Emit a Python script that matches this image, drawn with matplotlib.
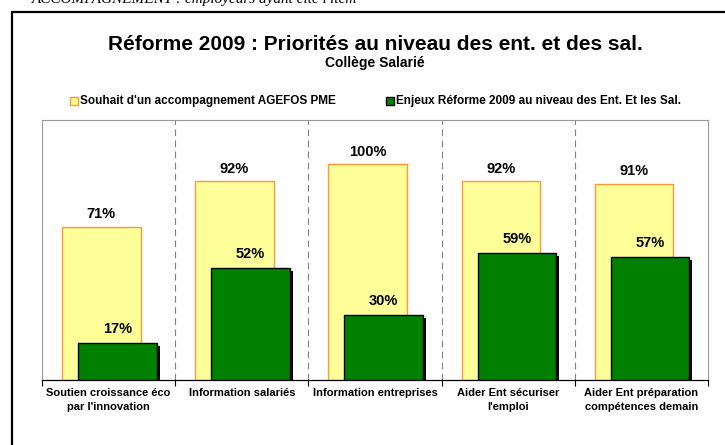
import matplotlib
matplotlib.use("Agg")
import matplotlib.pyplot as plt
from matplotlib.patches import Rectangle
import matplotlib.patheffects as pe
import numpy as np

plt.rcParams['font.family'] = ['Liberation Sans', 'DejaVu Sans']

categories = ["Soutien croissance éco\npar l'innovation", "Information salariés",
              "Information entreprises", "Aider Ent sécuriser\nl'emploi",
              "Aider Ent préparation\ncompétences demain"]
souhait = [71, 92, 100, 92, 91]
enjeux = [17, 52, 30, 59, 57]
series_names = ["Souhait d'un accompagnement AGEFOS PME",
                "Enjeux Réforme 2009 au niveau des Ent. Et les Sal."]
title = "Réforme 2009 : Priorités au niveau des ent. et des sal."
subtitle = "Collège Salarié"
top_note = "ACCOMPAGNEMENT : employeurs ayant cité l'item"

W, H = 725, 445
fig = plt.figure(figsize=(W / 100, H / 100), dpi=100)
fig.patch.set_facecolor('white')

# outer frame
fig.add_artist(Rectangle((12 / W, -0.1), 1.2, 1 - 12 / H + 0.1, transform=fig.transFigure,
                         fill=False, edgecolor='black', lw=1.6))
fig.text(32 / W, 1 - 3 / H, top_note, family=['Liberation Serif'], style='italic',
         fontsize=11, va='baseline', ha='left')

ax = fig.add_axes([42 / W, 1 - 380 / H, (708 - 42) / W, (380 - 120) / H])
x = np.arange(len(categories))
bw = 0.59
yel = ax.bar(x - 0.055, souhait, width=bw, color='#FFFF99', edgecolor='#FF9933', lw=1.0, zorder=2)
grn = ax.bar(x + 0.065, enjeux, width=bw, color='#008000', edgecolor='black', lw=1.0, zorder=3,
             path_effects=[pe.SimplePatchShadow(offset=(2.2, -2.2), shadow_rgbFace='black', alpha=1.0),
                           pe.Normal()])

for xi, v in zip(x, souhait):
    ax.annotate(f"{v}%", (xi - 0.055, v), xytext=(0, 9), textcoords='offset points',
                ha='center', va='center', fontsize=10.5, fontweight='bold')
for xi, v in zip(x, enjeux):
    ax.annotate(f"{v}%", (xi + 0.065, v), xytext=(0, 10), textcoords='offset points',
                ha='center', va='center', fontsize=10.5, fontweight='bold')

ax.set_xlim(-0.5, len(categories) - 0.5)
ax.set_ylim(0, 120.5)
ax.set_yticks([])
for b in np.arange(0.5, len(categories) - 0.5, 1):
    ax.axvline(b, color='#808080', lw=0.8, ls=(0, (6, 4)), zorder=1)
ax.set_xticks(np.arange(-0.5, len(categories), 1))
ax.set_xticklabels([])
ax.tick_params(axis='x', length=4, width=0.8, color='black', direction='out')
for xi, lab in zip(x, categories):
    ax.text(xi, -0.03, lab, transform=ax.get_xaxis_transform(), ha='center', va='top',
            fontsize=8, fontweight='bold', linespacing=1.55)
for s in ['top', 'right', 'left']:
    ax.spines[s].set_color('#999999')
    ax.spines[s].set_linewidth(0.8)
ax.spines['bottom'].set_color('black')
ax.spines['bottom'].set_linewidth(0.9)

fig.text(375 / W, 1 - 44 / H, title, ha='center', va='center', fontsize=15, fontweight='bold')
fig.text(375 / W, 1 - 63 / H, subtitle, ha='center', va='center', fontsize=10, fontweight='bold')

# legend
def legend_item(xs, color, edge, label):
    fig.add_artist(Rectangle((xs / W, 1 - 105 / H), 8 / W, 8 / H, transform=fig.transFigure,
                             facecolor=color, edgecolor=edge, lw=1.0))
    fig.text((xs + 10) / W, 1 - 101 / H, label, ha='left', va='center', fontsize=8.5,
             fontweight='bold')

legend_item(70, '#FFFF99', '#FF9933', series_names[0])
legend_item(386, '#008000', 'black', series_names[1])

fig.savefig('out.png', dpi=100)
